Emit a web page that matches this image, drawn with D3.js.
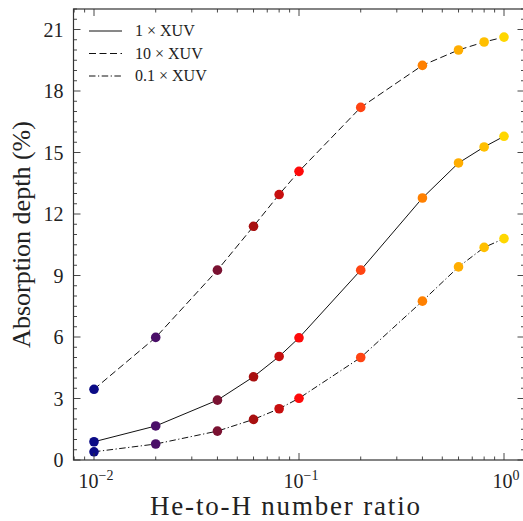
<!DOCTYPE html>
<html>
<head>
<meta charset="utf-8">
<script src="https://cdn.jsdelivr.net/npm/d3@7"></script>
<style>
  body { margin: 0; background: #fff; }
  text { font-family: "Liberation Serif", "DejaVu Serif", serif; fill: #222; }
</style>
</head>
<body>
<svg id="chart" width="523" height="521"></svg>
<script>
// He-to-H number ratio
const ratios = [0.01, 0.02, 0.04, 0.06, 0.08, 0.1, 0.2, 0.4, 0.6, 0.8, 1.0];
// absorption depth (%) for each XUV level
const depth1x = [0.89, 1.66, 2.92, 4.06, 5.05, 5.96, 9.26, 12.78, 14.49, 15.27, 15.79];
const depth10x = [3.45, 5.98, 9.26, 11.4, 12.95, 14.08, 17.2, 19.25, 20.0, 20.39, 20.63];
const depth01x = [0.40, 0.78, 1.41, 1.98, 2.50, 3.01, 5.00, 7.75, 9.42, 10.37, 10.80];
const seriesNames = ['1 \u00d7 XUV', '10 \u00d7 XUV', '0.1 \u00d7 XUV'];
const yTicks = [0, 3, 6, 9, 12, 15, 18, 21];
const xTicks = [0.01, 0.1, 1];
const xTickExp = ['\u22122', '\u22121', '0'];

const pointColors = ['#0b0b86', '#4a0f68', '#7a1232', '#a81010', '#c70f0f', '#fe0a0a',
  '#ff4413', '#ff8000', '#ffad00', '#ffbf00', '#ffd700'];
const dashes = ['none', '7,3.5', '6.5,2.5,1.2,2.5'];

const svg = d3.select('#chart');
const m = { left: 73.5, right: 524.5, top: 9, bottom: 460 };

const x = d3.scaleLog().domain([Math.pow(10, -2.1), Math.pow(10, 0.1)]).range([m.left, m.right]);
const y = d3.scaleLinear().domain([0, 22]).range([m.bottom, m.top]);

const series = [depth1x, depth10x, depth01x];

const line = d3.line()
  .x((d, i) => x(ratios[i]))
  .y(d => y(d));

series.forEach((s, k) => {
  svg.append('path')
    .datum(s)
    .attr('fill', 'none')
    .attr('stroke', '#111')
    .attr('stroke-width', 1)
    .attr('stroke-dasharray', dashes[k])
    .attr('d', line);
});

series.forEach(s => {
  svg.append('g').selectAll('circle')
    .data(s)
    .enter()
    .append('circle')
    .attr('cx', (d, i) => x(ratios[i]))
    .attr('cy', d => y(d))
    .attr('r', 4.8)
    .attr('fill', (d, i) => pointColors[i]);
});

// minor ticks
const xMinor = [];
[0.001, 0.01, 0.1, 1].forEach(dec => {
  for (let j = 2; j <= 9; j++) {
    const v = dec * j;
    if (v > x.domain()[0] && v < x.domain()[1]) xMinor.push(v);
  }
});
const yMinor = d3.range(0, 22.01, 0.5).filter(v => v % 3 !== 0);

const ticks = svg.append('g').attr('stroke', '#333').attr('stroke-width', 0.9);
xTicks.forEach(v => {
  ticks.append('line').attr('x1', x(v)).attr('x2', x(v)).attr('y1', m.bottom).attr('y2', m.bottom - 7);
  ticks.append('line').attr('x1', x(v)).attr('x2', x(v)).attr('y1', m.top).attr('y2', m.top + 7);
});
xMinor.forEach(v => {
  ticks.append('line').attr('x1', x(v)).attr('x2', x(v)).attr('y1', m.bottom).attr('y2', m.bottom - 3.5);
  ticks.append('line').attr('x1', x(v)).attr('x2', x(v)).attr('y1', m.top).attr('y2', m.top + 3.5);
});
yTicks.forEach(v => {
  ticks.append('line').attr('x1', m.left).attr('x2', m.left + 7).attr('y1', y(v)).attr('y2', y(v));
  ticks.append('line').attr('x1', m.right).attr('x2', m.right - 7).attr('y1', y(v)).attr('y2', y(v));
});
yMinor.forEach(v => {
  ticks.append('line').attr('x1', m.left).attr('x2', m.left + 3.5).attr('y1', y(v)).attr('y2', y(v));
  ticks.append('line').attr('x1', m.right).attr('x2', m.right - 3.5).attr('y1', y(v)).attr('y2', y(v));
});

// frame
svg.append('rect')
  .attr('x', m.left).attr('y', m.top)
  .attr('width', m.right - m.left).attr('height', m.bottom - m.top)
  .attr('fill', 'none').attr('stroke', '#333').attr('stroke-width', 1.2);

// tick labels
svg.append('g').selectAll('text')
  .data(yTicks)
  .enter()
  .append('text')
  .attr('x', m.left - 10)
  .attr('y', d => y(d) + 7)
  .attr('text-anchor', 'end')
  .attr('font-size', 20)
  .text(d => d);

xTicks.forEach((v, i) => {
  const t = svg.append('text')
    .attr('x', x(v) + 2)
    .attr('y', m.bottom + 28)
    .attr('text-anchor', 'middle')
    .attr('font-size', 20);
  t.append('tspan').text('10');
  t.append('tspan').attr('dy', -8).attr('font-size', 14).text(xTickExp[i]);
});

// axis titles
svg.append('text')
  .attr('x', 150)
  .attr('y', 515)
  .attr('font-size', 27)
  .attr('textLength', 270)
  .attr('lengthAdjust', 'spacing')
  .text('He-to-H number ratio');

svg.append('text')
  .attr('transform', `translate(30,${(m.top + m.bottom) / 2}) rotate(-90)`)
  .attr('text-anchor', 'middle')
  .attr('font-size', 26)
  .text('Absorption depth (%)');

// legend
const legend = svg.append('g');
seriesNames.forEach((name, k) => {
  const ly = 31 + k * 22.5;
  legend.append('line')
    .attr('x1', 89).attr('x2', 122).attr('y1', ly).attr('y2', ly)
    .attr('stroke', '#111').attr('stroke-width', 1)
    .attr('stroke-dasharray', dashes[k]);
  legend.append('text')
    .attr('x', 135).attr('y', ly + 5)
    .attr('font-size', 16)
    .text(name);
});
</script>
</body>
</html>
